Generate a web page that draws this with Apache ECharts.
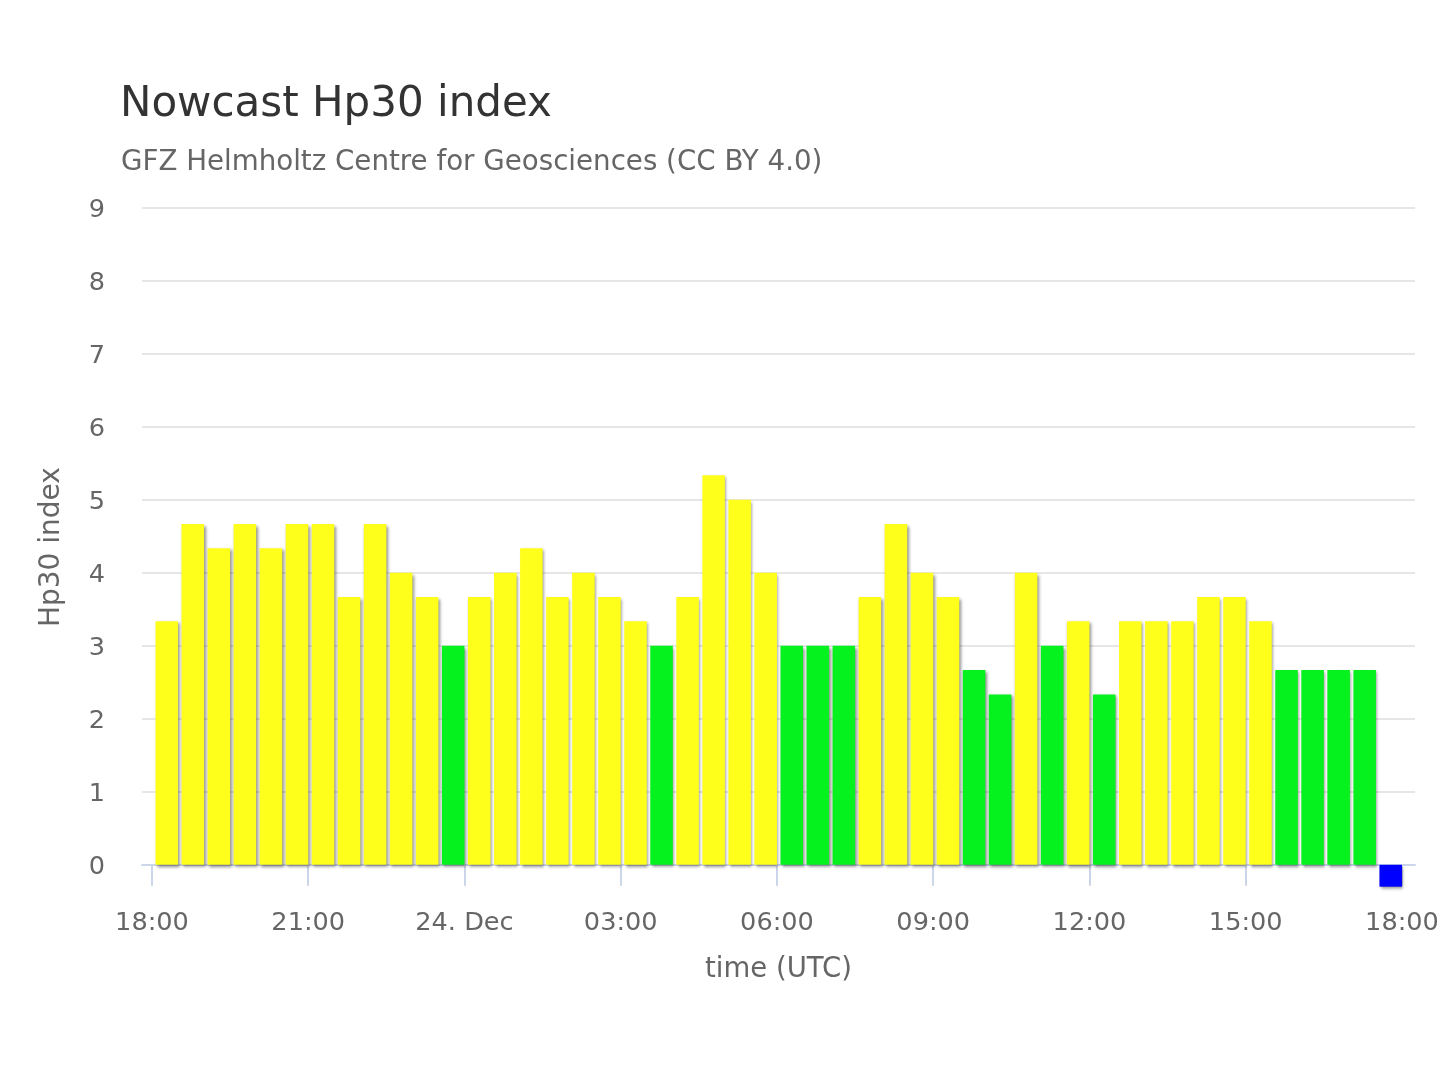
<!DOCTYPE html>
<html><head><meta charset="utf-8">
<script src="https://cdn.jsdelivr.net/npm/echarts@6/dist/echarts.min.js"></script>
<style>html,body{margin:0;padding:0;background:#fff}#chart{width:1440px;height:1080px}</style>
</head><body><div id="chart"></div>
<script>
// ---- data ----
const titleText = 'Nowcast Hp30 index';
const subtitleText = 'GFZ Helmholtz Centre for Geosciences (CC BY 4.0)';
const startTimeUTC = Date.UTC(2024, 11, 23, 18, 0);   // 23 Dec 18:00 UTC
const slotMinutes = 30;
// Hp30 values, one per 30-minute slot starting 18:00 UTC; last slot is a pending placeholder (negative)
const hp30Values = [
  3.333, 4.667, 4.333, 4.667, 4.333, 4.667, 4.667, 3.667, 4.667, 4.0, 3.667, 3.0,
  3.667, 4.0, 4.333, 3.667, 4.0, 3.667, 3.333, 3.0, 3.667, 5.333, 5.0, 4.0,
  3.0, 3.0, 3.0, 3.667, 4.667, 4.0, 3.667, 2.667, 2.333, 4.0, 3.0, 3.333,
  2.333, 3.333, 3.333, 3.333, 3.667, 3.667, 3.333, 2.667, 2.667, 2.667, 2.667, -0.3
];
const xTickLabels = ['18:00', '21:00', '24. Dec', '03:00', '06:00', '09:00', '12:00', '15:00', '18:00'];
const xTickStepHours = 3;
const yTickValues = [0, 1, 2, 3, 4, 5, 6, 7, 8, 9];
const yMin = -0.3, yMax = 9;

// ---- build ----
const slotMs = slotMinutes * 60000;
const hourMs = 3600000;
const tickTimes = xTickLabels.map((_, i) => startTimeUTC + i * xTickStepHours * hourMs);
const seriesData = hp30Values.map((v, i) => [startTimeUTC + i * slotMs, v]);
function colorFor(v) {
  if (v < 0) return '#0000ff';
  if (v < 3.2) return '#06f21e';
  return '#ffff1c';
}
const FONT = 'DejaVu Sans';
const chart = echarts.init(document.getElementById('chart'));
chart.setOption({
  animation: false,
  backgroundColor: '#ffffff',
  title: [
    { text: titleText, left: 115, top: 79, textStyle: { fontFamily: FONT, fontSize: 42, fontWeight: 'normal', color: '#333333' } },
    { text: subtitleText, left: 116, top: 144, textStyle: { fontFamily: FONT, fontSize: 27.7, fontWeight: 'normal', color: '#666666' } }
  ],
  grid: { left: 142, right: 25, top: 207.5, bottom: 193.3, outerBoundsMode: 'none' },
  xAxis: {
    type: 'value',
    min: startTimeUTC - 11.5 * 60000,
    max: startTimeUTC + 24 * hourMs + 15 * 60000,
    name: 'time (UTC)', nameLocation: 'middle', nameGap: 69,
    nameTextStyle: { fontFamily: FONT, fontSize: 27.5, color: '#666666' },
    axisLine: { show: true, lineStyle: { color: '#ccd6eb', width: 2 } },
    axisTick: { show: true, customValues: tickTimes, length: 21, lineStyle: { color: '#ccd6eb', width: 2 } },
    axisLabel: {
      customValues: tickTimes, margin: 24,
      fontFamily: FONT, fontSize: 25.6, color: '#666666',
      formatter: (val) => {
        let best = 0;
        tickTimes.forEach((t, i) => { if (Math.abs(t - val) < Math.abs(tickTimes[best] - val)) best = i; });
        return xTickLabels[best];
      }
    },
    splitLine: { show: false }
  },
  yAxis: {
    type: 'value', min: yMin, max: yMax,
    name: 'Hp30 index', nameLocation: 'middle', nameGap: 76, nameRotate: 90,
    nameTextStyle: { fontFamily: FONT, fontSize: 28, color: '#666666' },
    axisLine: { show: false },
    axisTick: { show: false, customValues: yTickValues },
    axisLabel: { customValues: yTickValues, margin: 37, verticalAlign: 'top', lineHeight: 6, fontFamily: FONT, fontSize: 25.6, color: '#666666' },
    splitLine: { show: true, lineStyle: { color: '#e6e6e6', width: 2 } }
  },
  series: [{
    type: 'custom',
    data: seriesData,
    renderItem: (params, api) => {
      const t = api.value(0), v = api.value(1);
      const p0 = api.coord([t, v]);
      const p1 = api.coord([t + slotMs, 0]);
      const x = p0[0] + 3.5, w = p1[0] - p0[0] - 3.5;
      const y = Math.min(p0[1], p1[1]), h = Math.abs(p1[1] - p0[1]);
      return {
        type: 'rect',
        shape: { x: x, y: y, width: w, height: h },
        style: {
          fill: colorFor(v),
          shadowColor: 'rgba(0,0,0,0.45)', shadowBlur: 3, shadowOffsetX: 1.5, shadowOffsetY: 2
        }
      };
    }
  }]
});
</script></body></html>
